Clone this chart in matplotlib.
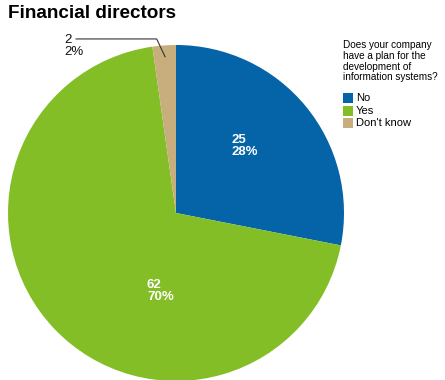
import matplotlib.pyplot as plt
from matplotlib.patches import Rectangle

plt.rcParams["font.family"] = ["Liberation Sans", "DejaVu Sans"]

categories = ["No", "Yes", "Don't know"]
counts = [25, 62, 2]
percents = [28, 70, 2]
colors = ["#0563a8", "#84be27", "#c8ae7d"]
legend_title = "Does your company\nhave a plan for the\ndevelopment of\ninformation systems?"

fig = plt.figure(figsize=(4.45, 3.8), dpi=100)
ax = fig.add_axes([8 / 445, -1 / 380, 336 / 445, 336 / 380])
ax.pie(counts, colors=colors, startangle=90, counterclock=False,
       wedgeprops=dict(edgecolor="none", linewidth=0))
ax.set_xlim(-1, 1)
ax.set_ylim(-1, 1)
ax.set_aspect("equal")

# labels inside the two large slices
ax.text(0.333, 0.40, f"{counts[0]}\n{percents[0]}%", color="white", fontsize=9.5,
        fontweight="bold", ha="left", va="center", multialignment="left",
        linespacing=1.0)
ax.text(-0.173, -0.464, f"{counts[1]}\n{percents[1]}%", color="white", fontsize=9.5,
        fontweight="bold", ha="left", va="center", multialignment="left",
        linespacing=1.0)

# leader line for the small slice
ax.plot([-0.595, -0.115, -0.065], [1.036, 1.036, 0.93], color="#333333", lw=0.8,
        clip_on=False)
ax.text(-0.667, 1.065, f"{counts[2]}\n{percents[2]}%", color="#111111", fontsize=9.5,
        ha="left", va="top", multialignment="left", linespacing=0.95, clip_on=False)

fig.text(8 / 445, 1 - 5 / 380, "Financial directors", fontsize=13.6, fontweight="bold",
         ha="left", va="top")

# legend
fig.text(343 / 445, 1 - 40 / 380, legend_title, fontsize=7.2, ha="left", va="top",
         linespacing=1.1)
for i, (name, c) in enumerate(zip(categories, colors)):
    y = 93 + i * 12.5
    fig.patches.append(Rectangle((343 / 445, 1 - (y + 10) / 380), 10 / 445, 10 / 380,
                                 transform=fig.transFigure, facecolor=c,
                                 edgecolor="none"))
    fig.text(356 / 445, 1 - (y + 5) / 380, name, fontsize=8, ha="left",
             va="center")

fig.savefig("out.png", dpi=100)
